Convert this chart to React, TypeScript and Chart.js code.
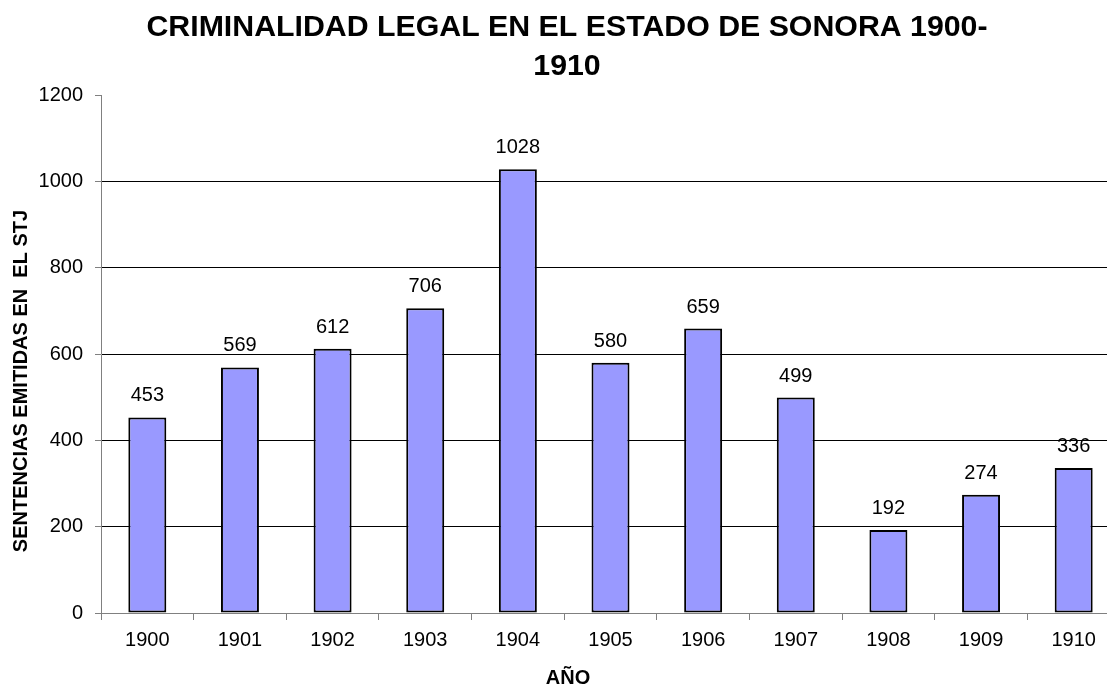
import React, { useEffect, useRef } from "react";
import { Chart, registerables } from "chart.js";

Chart.register(...registerables);

const years = ["1900", "1901", "1902", "1903", "1904", "1905", "1906", "1907", "1908", "1909", "1910"];
const sentencias = [453, 569, 612, 706, 1028, 580, 659, 499, 192, 274, 336];
const titleLines = ["CRIMINALIDAD LEGAL EN EL ESTADO DE SONORA 1900-", "1910"];
const yAxisTitle = "SENTENCIAS EMITIDAS EN  EL STJ";
const xAxisTitle = "AÑO";

const FONT = '"Liberation Sans", Arial, Helvetica, sans-serif';

const textPlugin = {
  id: "textPlugin",
  afterDatasetsDraw(chart: any) {
    const ctx = chart.ctx;
    const meta = chart.getDatasetMeta(0);
    ctx.save();
    ctx.fillStyle = "#000";
    ctx.font = `20px ${FONT}`;
    ctx.textAlign = "center";
    ctx.textBaseline = "alphabetic";
    meta.data.forEach((bar: any, i: number) => {
      ctx.fillText(String(sentencias[i]), bar.x, bar.y - 16);
    });
    ctx.restore();
  },
  afterDraw(chart: any) {
    const ctx = chart.ctx;
    ctx.save();
    ctx.fillStyle = "#000";
    ctx.textAlign = "center";
    ctx.textBaseline = "alphabetic";
    ctx.font = `bold 30.3px ${FONT}`;
    ctx.fillText(titleLines[0], 567, 36);
    ctx.fillText(titleLines[1], 567, 75);
    ctx.font = `bold 20px ${FONT}`;
    ctx.fillText(xAxisTitle, 568, 684);
    ctx.translate(27, 381);
    ctx.rotate(-Math.PI / 2);
    ctx.fillText(yAxisTitle, 0, 0);
    ctx.restore();
  },
};

export default function App() {
  const ref = useRef<HTMLCanvasElement | null>(null);
  useEffect(() => {
    if (!ref.current) return;
    const chart = new Chart(ref.current, {
      type: "bar",
      data: {
        labels: years,
        datasets: [
          {
            data: sentencias,
            backgroundColor: "#9999FF",
            borderColor: "#000",
            borderWidth: 2,
            borderSkipped: false,
            barPercentage: 0.41,
            categoryPercentage: 1,
          },
        ],
      },
      options: {
        responsive: false,
        animation: false,
        layout: { padding: { top: 95, left: 0, right: 8, bottom: 0 } },
        plugins: {
          legend: { display: false },
          title: { display: false },
          tooltip: { enabled: false },
        },
        scales: {
          x: {
            afterFit(scale: any) {
              scale.height = 74;
            },
            grid: {
              display: true,
              drawOnChartArea: false,
              drawTicks: true,
              tickLength: 7,
              tickColor: "#808080",
              offset: true,
            },
            border: { display: true, color: "#808080", width: 1 },
            ticks: {
              color: "#000",
              font: { family: FONT, size: 20 },
              padding: 8,
              maxRotation: 0,
            },
          },
          y: {
            min: 0,
            max: 1200,
            afterFit(scale: any) {
              scale.width = 101;
            },
            grid: {
              color: (c: any) =>
                c.tick && (c.tick.value === 1200 || c.tick.value === 0) ? "rgba(0,0,0,0)" : "#000",
              tickColor: "#808080",
              tickLength: 6,
              drawTicks: true,
            },
            border: { display: true, color: "#808080", width: 1 },
            ticks: {
              stepSize: 200,
              color: "#000",
              font: { family: FONT, size: 20 },
              padding: 12,
              callback: (v: any) => String(v),
            },
          },
        },
      },
      plugins: [textPlugin],
    });
    return () => chart.destroy();
  }, []);

  return (
    <div
      style={{
        position: "absolute",
        left: 0,
        top: 0,
        width: 1107,
        height: 687,
        overflow: "hidden",
        background: "#fff",
      }}
    >
      <canvas ref={ref} width={1128} height={687} style={{ display: "block" }} />
    </div>
  );
}
